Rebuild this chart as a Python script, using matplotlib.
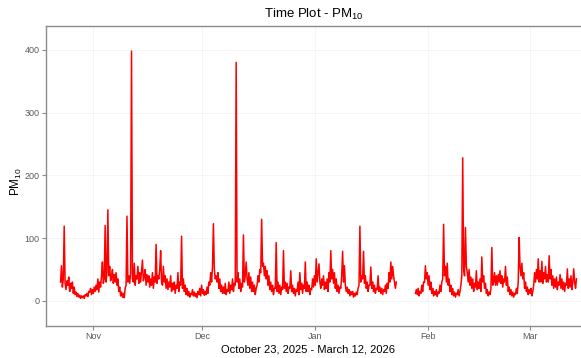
import numpy as np
import pandas as pd
import matplotlib
matplotlib.use("Agg")
import matplotlib.pyplot as plt

plt.rcParams['font.family'] = ['Liberation Sans', 'DejaVu Sans']
plt.rcParams['mathtext.fontset'] = 'custom'
plt.rcParams['mathtext.rm'] = 'Liberation Sans'
plt.rcParams['mathtext.it'] = 'Liberation Sans'

# PM10 readings every 6 hours, starting Oct 23 2025 00:00
start = "2025-10-23"
nan = np.nan
pm10 = [
    30, 56, 22, 35,   119, 28, 18, 32,
    25, 38, 15, 28,   20, 30, 12, 22,
    10, 14, 7, 12,    6, 9, 4, 8,
    5, 8, 4, 10,      8, 12, 7, 15,
    14, 20, 10, 18,   12, 22, 15, 25,
    18, 35, 14, 30,   22, 40, 62, 28,
    35, 120, 30, 45,  145, 40, 55, 32,
    38, 50, 28, 42,   30, 45, 25, 35,
    15, 22, 8, 14,    6, 12, 5, 20,
    25, 135, 30, 40,  28, 45, 398, 35,
    30, 60, 25, 40,   35, 55, 28, 45,
    30, 48, 65, 32,   38, 50, 25, 42,
    30, 40, 22, 35,   25, 45, 20, 38,
    30, 90, 28, 40,   35, 50, 80, 30,
    25, 55, 30, 40,   20, 35, 18, 30,
    22, 40, 15, 28,   18, 30, 12, 25,
    20, 45, 15, 30,   25, 103, 20, 35,
    15, 25, 10, 20,   8, 15, 6, 12,
    10, 18, 8, 14,    7, 12, 5, 15,
    10, 20, 8, 25,    12, 18, 9, 15,
    10, 22, 12, 30,   25, 45, 30, 55,
    123, 50, 35, 40,  30, 45, 20, 35,
    15, 25, 12, 22,   12, 28, 10, 18,
    15, 30, 12, 25,   18, 35, 15, 28,
    25, 380, 30, 45,  20, 35, 15, 28,
    22, 105, 30, 40,  62, 35, 25, 45,
    20, 38, 15, 30,   15, 25, 10, 20,
    25, 40, 30, 50,   45, 130, 55, 60,
    40, 55, 35, 48,   25, 40, 18, 30,
    15, 25, 10, 20,   20, 93, 15, 30,
    12, 25, 10, 22,   18, 80, 20, 30,
    15, 28, 12, 22,   20, 48, 15, 25,
    12, 20, 8, 18,    15, 30, 10, 45,
    18, 28, 12, 25,   20, 62, 15, 30,
    15, 25, 10, 20,   18, 35, 22, 40,
    25, 67, 30, 45,   59, 30, 20, 35,
    25, 40, 18, 30,   20, 35, 15, 45,
    30, 80, 35, 50,   28, 45, 20, 35,
    15, 25, 12, 22,   20, 40, 79, 30,
    56, 25, 15, 22,   12, 18, 8, 15,
    10, 15, 6, 12,    8, 14, 10, 20,
    25, 119, 30, 40,  35, 79, 28, 40,
    20, 30, 15, 25,   25, 54, 20, 30,
    15, 25, 12, 20,   18, 40, 15, 22,
    12, 20, 10, 18,   15, 25, 12, 28,
    20, 45, 30, 62,   35, 55, 40, 30,
    20, 30, nan, nan, nan, nan, nan, nan,
    nan, nan, nan, nan, nan, nan, nan, nan,
    nan, nan, nan, nan, nan, nan, 12, 18,
    10, 20, 8, 15,    12, 25, 15, 30,
    30, 56, 35, 45,   25, 40, 18, 30,
    12, 20, 8, 15,    10, 18, 7, 14,
    12, 25, 15, 30,   35, 122, 40, 55,
    30, 60, 25, 35,   15, 25, 10, 20,
    8, 14, 6, 12,     10, 18, 8, 15,
    25, 40, 228, 50,  40, 117, 55, 45,
    30, 50, 25, 38,   20, 35, 15, 28,
    22, 48, 18, 30,   20, 35, 15, 70,
    30, 40, 20, 28,   12, 18, 8, 14,
    10, 20, 85, 25,   30, 45, 25, 40,
    25, 42, 30, 48,   28, 40, 22, 35,
    30, 55, 25, 38,   15, 22, 10, 18,
    8, 14, 6, 12,     10, 20, 12, 30,
    101, 55, 40, 60,  35, 45, 20, 30,
    15, 22, 10, 18,   12, 20, 8, 15,
    25, 45, 30, 50,   35, 67, 30, 48,
    30, 63, 28, 45,   35, 55, 30, 42,
    30, 72, 35, 50,   25, 40, 20, 35,
    22, 38, 18, 30,   25, 42, 20, 35,
    18, 30, 15, 28,   25, 51, 20, 35,
    22, 40, 18, 30,   51, 30, 20, 35,
]
y_ticks = [0, 100, 200, 300, 400]
month_ticks = ["2025-11-01", "2025-12-01", "2026-01-01", "2026-02-01", "2026-03-01"]
month_labels = ["Nov", "Dec", "Jan", "Feb", "Mar"]

times = pd.date_range(start, periods=len(pm10), freq="6h")

fig = plt.figure(figsize=(5.81, 3.58), dpi=100)
ax = fig.add_axes([46 / 581, 1 - 326 / 358, 1 - 46 / 581, (326 - 26) / 358])

ax.plot(times, pm10, color="#FF0000", linewidth=1.1)

ax.set_xlim(pd.Timestamp("2025-10-19"), pd.Timestamp("2026-03-15"))
ax.set_ylim(-40, 438)
ax.set_yticks(y_ticks)
ax.set_xticks(pd.to_datetime(month_ticks))
ax.set_xticklabels(month_labels)

ax.grid(True, color="#F4F4F4", linewidth=0.6)
ax.set_axisbelow(True)
for s in ["left", "bottom", "top"]:
    ax.spines[s].set_color("#8C8C8C")
    ax.spines[s].set_linewidth(1.0)
ax.spines["right"].set_visible(False)
ax.tick_params(colors="#8C8C8C", labelcolor="#5A5A5A", labelsize=6.5, length=3, width=0.8, pad=1.5)

ax.set_title("Time Plot - PM$_{10}$", fontsize=9.5, pad=6)
fig.text(308 / 581, 1 - 349 / 358, "October 23, 2025 - March 12, 2026",
         fontsize=8, ha="center", va="center")
fig.text(16 / 581, 1 - 182 / 358, "PM$_{10}$", fontsize=8.5, rotation=90,
         ha="center", va="center")

fig.savefig("out.png", dpi=100)
